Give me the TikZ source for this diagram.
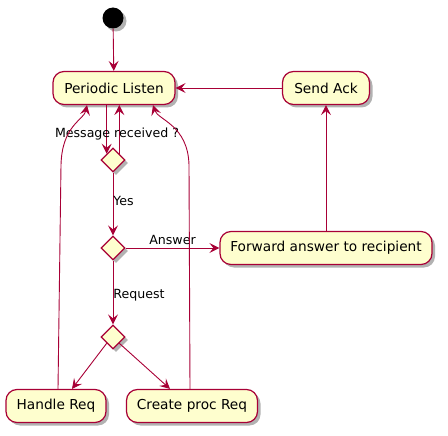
\documentclass[tikz,border=0pt]{standalone}
\usepackage{fontspec}
\setmainfont{DejaVu Sans}
\usetikzlibrary{calc}
\usetikzlibrary{arrows.meta}
\usetikzlibrary{shapes.geometric,shadows}
\definecolor{umlred}{HTML}{A80036}
\definecolor{umlfill}{HTML}{FEFECE}
\tikzset{
  shade box/.style={drop shadow={shadow xshift=3pt,shadow yshift=-3pt,fill=black,opacity=.3}},
  act/.style={draw=umlred,fill=umlfill,line width=1.2pt,rounded corners=11pt,minimum height=33pt,
    inner xsep=8pt,font=\fontsize{13.7}{15}\selectfont,shade box},
  choice/.style={diamond,draw=umlred,fill=umlfill,line width=1.2pt,minimum width=24pt,minimum height=24pt,
    inner sep=0pt,shade box},
  flow/.style={draw=umlred,line width=.9pt,-{Stealth[length=10pt,width=10pt,inset=4pt]}},
  lbl/.style={font=\fontsize{12.6}{14}\selectfont,inner sep=0pt}
}
\begin{document}
\begin{tikzpicture}[x=1pt,y=1pt]
\useasboundingbox (0,0) rectangle (448,-436);
\node[circle,fill=black,minimum size=21pt,inner sep=0pt,shade box] (start) at (113,-18) {};
\node[act,minimum width=122pt] (listen) at (114,-88) {Periodic Listen};
\node[act,minimum width=87pt] (ack) at (326,-88) {Send Ack};
\node[choice] (msg) at (113,-160) {};
\node[choice] (kind) at (113,-248) {};
\node[act,minimum width=212pt] (fwd) at (326,-248) {Forward answer to recipient};
\node[choice] (req) at (113,-337) {};
\node[act,minimum width=100pt] (handle) at (56,-406) {Handle Req};
\node[act,minimum width=131pt] (create) at (192,-406) {Create proc Req};

\draw[flow] (start) -- (listen);
\draw[flow] (ack) -- (listen);
\draw[flow] (msg.north west |- listen.south) -- (msg.north west);
\draw[flow] (msg.north east) -- (msg.north east |- listen.south);
\node[lbl] (msglbl) at (117,-134) {Message received ?};
\draw[flow] (msg) -- (kind) node[lbl,pos=.45,right] (yes) {Yes};
\draw[flow] (kind) -- (fwd) node[lbl,pos=.5,above=3pt] (answer) {Answer};
\draw[flow] (fwd) -- (ack);
\draw[flow] (kind) -- (req) node[lbl,pos=.55,right] (request) {Request};
\draw[flow] (req.south west) -- ($(handle.north)+(16,0)$);
\draw[flow] (req.south east) -- ($(create.north)+(-22,0)$);
% back to listening
\draw[flow] ($(handle.north)+(2,0)$) -- (61,-165) .. controls (62,-125) and (84,-120) .. ($(listen.south)+(-27,0)$);
\draw[flow] ($(create.north)+(-2,0)$) -- (189,-165) .. controls (188,-125) and (158,-120) .. ($(listen.south)+(39,0)$);
\end{tikzpicture}
\end{document}
